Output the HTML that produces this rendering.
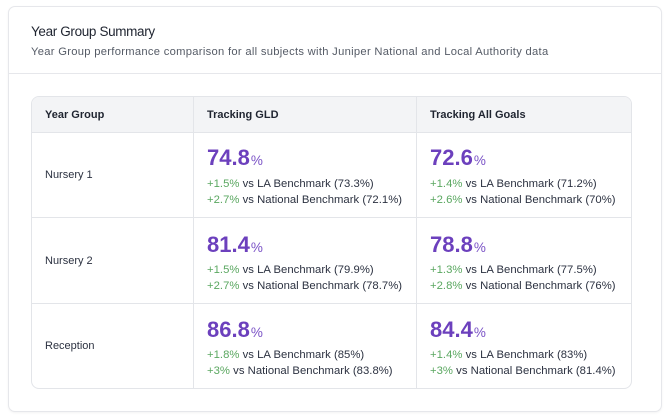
<!DOCTYPE html>
<html>
<head>
<meta charset="utf-8">
<style>
  html, body { margin:0; padding:0; background:#ffffff; }
  body { width:667px; height:420px; position:relative; overflow:hidden; font-family:"Liberation Sans", Arial, sans-serif; }
  .card { position:absolute; left:8px; top:6px; width:652px; height:404px; border:1px solid #e6e7eb; border-radius:7px; box-shadow:0 1px 2px rgba(0,0,0,0.05); background:#fff; }
  .divider { position:absolute; left:8px; top:73px; width:654px; height:1px; background:#e6e7eb; }
  .t { position:absolute; white-space:nowrap; }
  .title { left:31px; top:24px; font-size:13.5px; line-height:16px; color:#1f2430; letter-spacing:-0.35px; }
  .sub { left:31px; top:45.5px; font-size:11.2px; line-height:13px; color:#555b66; letter-spacing:0.3px; }
  .table { position:absolute; left:31px; top:96px; width:599px; height:291px; border:1px solid #e3e5e9; border-radius:8px; overflow:hidden; background:#fff; }
  .thead { position:absolute; left:0; top:0; width:100%; height:36px; background:#f3f4f6; }
  .hl { position:absolute; left:0; width:100%; height:1px; background:#e3e5e9; }
  .vl { position:absolute; top:0; width:1px; height:100%; background:#e3e5e9; }
  .th { font-size:11px; font-weight:bold; color:#1f2430; line-height:13px; }
  .lbl { font-size:11px; color:#2b3140; line-height:13px; }
  .big { font-size:22px; line-height:22px; font-weight:bold; color:#6c40bd; }
  .big span { font-size:13.5px; font-weight:normal; color:#7a52c6; margin-left:1px; }
  .sm { font-size:11.3px; line-height:16.5px; color:#2b3140; letter-spacing:0.02px; }
  .sm .g { color:#5aa760; }
</style>
</head>
<body>
<div class="card"></div>
<div class="divider"></div>
<div class="t title">Year Group Summary</div>
<div class="t sub">Year Group performance comparison for all subjects with Juniper National and Local Authority data</div>

<div class="table">
  <div class="thead"></div>
  <div class="hl" style="top:35px"></div>
  <div class="hl" style="top:120px"></div>
  <div class="hl" style="top:206px"></div>
  <div class="vl" style="left:161px"></div>
  <div class="vl" style="left:384px"></div>
</div>

<div class="t th" style="left:45px; top:109px;">Year Group</div>
<div class="t th" style="left:207px; top:109px;">Tracking GLD</div>
<div class="t th" style="left:430px; top:109px;">Tracking All Goals</div>

<!-- Row 1 -->
<div class="t lbl" style="left:45px; top:169px;">Nursery 1</div>
<div class="t big" style="left:207px; top:147px;">74.8<span>%</span></div>
<div class="t sm" style="left:207px; top:175.5px;"><span class="g">+1.5%</span> vs LA Benchmark (73.3%)<br><span class="g">+2.7%</span> vs National Benchmark (72.1%)</div>
<div class="t big" style="left:430px; top:147px;">72.6<span>%</span></div>
<div class="t sm" style="left:430px; top:175.5px;"><span class="g">+1.4%</span> vs LA Benchmark (71.2%)<br><span class="g">+2.6%</span> vs National Benchmark (70%)</div>

<!-- Row 2 -->
<div class="t lbl" style="left:45px; top:255px;">Nursery 2</div>
<div class="t big" style="left:207px; top:233.5px;">81.4<span>%</span></div>
<div class="t sm" style="left:207px; top:261.5px;"><span class="g">+1.5%</span> vs LA Benchmark (79.9%)<br><span class="g">+2.7%</span> vs National Benchmark (78.7%)</div>
<div class="t big" style="left:430px; top:233.5px;">78.8<span>%</span></div>
<div class="t sm" style="left:430px; top:261.5px;"><span class="g">+1.3%</span> vs LA Benchmark (77.5%)<br><span class="g">+2.8%</span> vs National Benchmark (76%)</div>

<!-- Row 3 -->
<div class="t lbl" style="left:45px; top:340px;">Reception</div>
<div class="t big" style="left:207px; top:318.5px;">86.8<span>%</span></div>
<div class="t sm" style="left:207px; top:346.5px;"><span class="g">+1.8%</span> vs LA Benchmark (85%)<br><span class="g">+3%</span> vs National Benchmark (83.8%)</div>
<div class="t big" style="left:430px; top:318.5px;">84.4<span>%</span></div>
<div class="t sm" style="left:430px; top:346.5px;"><span class="g">+1.4%</span> vs LA Benchmark (83%)<br><span class="g">+3%</span> vs National Benchmark (81.4%)</div>
</body>
</html>
